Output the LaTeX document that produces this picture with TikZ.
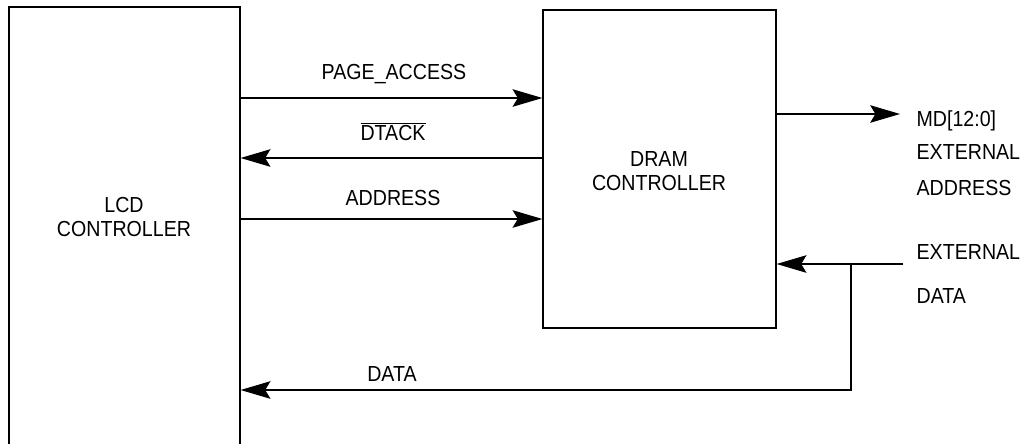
\documentclass[tikz,border=0pt]{standalone}
\usepackage{fontspec}
\setmainfont{Liberation Sans}[FakeStretch=0.9]
\usetikzlibrary{arrows.meta,positioning}

\begin{document}
\begin{tikzpicture}[x=0.02cm, y=-0.02cm, line width=0.7pt,
    block/.style={draw, rectangle, inner sep=0pt},
    sig/.style={-{Stealth[length=17pt, width=10pt, inset=3pt]}},
    blocktitle/.style={font=\fontsize{12.4}{13.6}\selectfont, inner sep=0pt, align=center},
    lbl/.style={font=\fontsize{12.4}{13.6}\selectfont, inner sep=0pt, text height=9pt, text depth=0pt}]
    % Clip to the page
    \clip (0,0) rectangle (1023,443);

    % Draw blocks
    \node[block, minimum width=4.62cm, minimum height=9.06cm] (lcd) at (124.5,233.5) {};
    \node[blocktitle] (lcdname) at (124,217) {LCD\\CONTROLLER};
    \node[block, minimum width=4.66cm, minimum height=6.36cm] (dram) at (659.5,169) {};
    \node[blocktitle] (dramname) at (659,171) {DRAM\\CONTROLLER};

    % Signal rows
    \coordinate (pa) at (0,98);
    \coordinate (dt) at (0,158);
    \coordinate (ad) at (0,219);
    \coordinate (db) at (0,390);
    \coordinate (mdtip) at (900,114);
    \coordinate (edin) at (903,264);
    \coordinate (tap) at (851,264);

    % Draw connecting arrows
    \draw[sig] (lcd.east |- pa) -- (dram.west |- pa);
    \draw[sig] (dram.west |- dt) -- (lcd.east |- dt);
    \draw[sig] (lcd.east |- ad) -- (dram.west |- ad);
    \draw[sig] (dram.east |- mdtip) -- (mdtip);
    \draw[sig] (edin) -- (dram.east |- edin);
    \draw[sig] (tap) |- (lcd.east |- db);

    % Signal labels
    \node[lbl] (pagelbl) at (394,72) {PAGE\_ACCESS};
    \node[lbl] (dtacklbl) at (393,133) {$\overline{\mbox{DTACK}}$};
    \node[lbl] (addrlbl) at (393,198) {ADDRESS};
    \node[lbl] (datalbl) at (392,374) {DATA};
    \node[lbl, anchor=west] (mdlbl) at (916,119) {MD[12:0]};
    \node[lbl, anchor=west] (extalbl) at (916,152) {EXTERNAL};
    \node[lbl, anchor=west] (addrolbl) at (916,188) {ADDRESS};
    \node[lbl, anchor=west] (extdlbl) at (916,252) {EXTERNAL};
    \node[lbl, anchor=west] (dataolbl) at (916,296) {DATA};
\end{tikzpicture}
\end{document}
